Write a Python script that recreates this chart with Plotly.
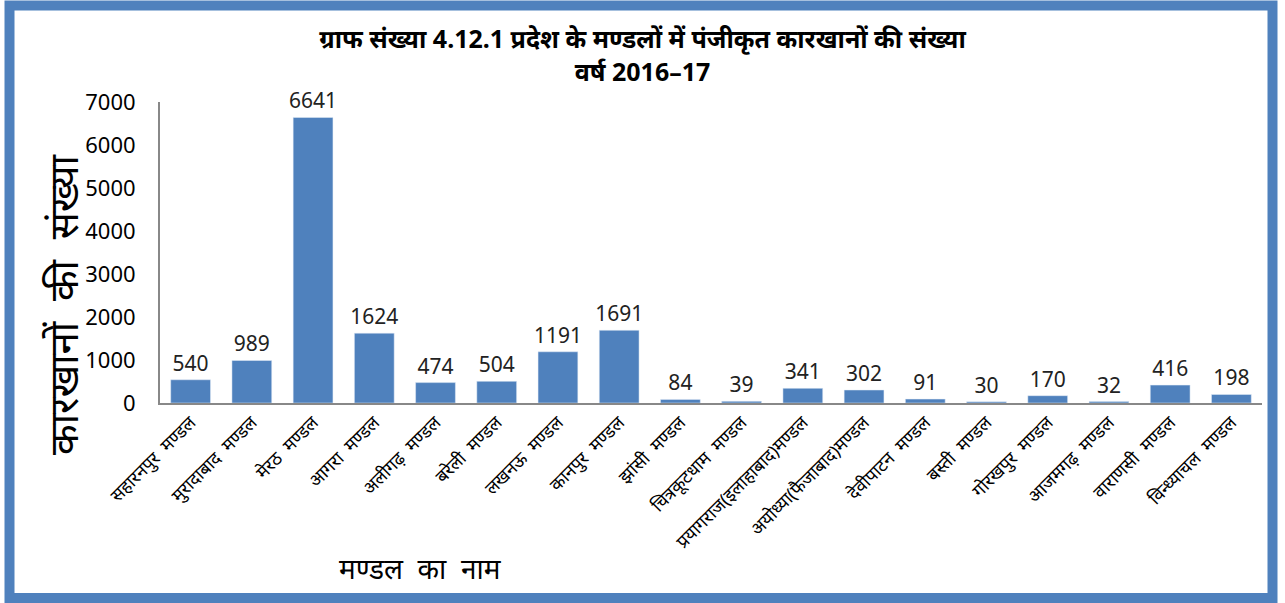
import plotly.graph_objects as go

mandals = ['सहारनपुर  मण्डल', 'मुरादाबाद  मण्डल', 'मेरठ  मण्डल', 'आगरा  मण्डल',
           'अलीगढ़  मण्डल', 'बरेली  मण्डल', 'लखनऊ  मण्डल', 'कानपुर  मण्डल',
           'झांसी  मण्डल', 'चित्रकूटधाम  मण्डल', 'प्रयागराज(इलाहाबाद)मण्डल',
           'अयोध्या(फैजाबाद)मण्डल', 'देवीपाटन  मण्डल', 'बस्ती  मण्डल',
           'गोरखपुर  मण्डल', 'आजमगढ़  मण्डल', 'वाराणसी  मण्डल', 'विन्ध्याचल  मण्डल']
factories = [540, 989, 6641, 1624, 474, 504, 1191, 1691, 84, 39, 341, 302, 91, 30, 170, 32, 416, 198]
y_ticks = [0, 1000, 2000, 3000, 4000, 5000, 6000, 7000]

blue = '#4F81BD'
font = 'Noto Sans, Liberation Sans, sans-serif'

# plot area in pixels
L, R, T, B = 160, 1262, 102, 403
W, H = R - L, B - T


def px(x):
    return (x - L) / W


def py(y):
    return (B - y) / H


fig = go.Figure(go.Bar(
    x=mandals, y=factories,
    marker_color=blue,
    width=0.65,
    text=factories, textposition='outside',
    textfont=dict(size=21, color='#222'),
    constraintext='none',
    cliponaxis=False,
))

fig.update_layout(
    width=1285, height=603,
    margin=dict(l=L, r=1285 - R, t=T, b=603 - B, autoexpand=False),
    paper_bgcolor='white', plot_bgcolor='white',
    font=dict(family=font, color='black'),
    showlegend=False,
    title=dict(text='<b>ग्राफ संख्या 4.12.1 प्रदेश के मण्डलों में पंजीकृत कारखानों की संख्या<br>वर्ष 2016–17</b>',
               x=0.5, xanchor='center', y=1 - 48 / 603, yanchor='top',
               font=dict(size=25)),
    xaxis=dict(tickangle=-45, tickfont=dict(size=18), showline=True,
               linecolor='#888', linewidth=2, ticks='', showgrid=False,
               automargin=False),
    yaxis=dict(range=[0, 7000], tickvals=y_ticks, tickfont=dict(size=22),
               showline=True, linecolor='#888', linewidth=2, showgrid=False,
               ticks='', zeroline=False, automargin=False,
               ticklabelstandoff=18),
    annotations=[
        dict(text='कारखानों  की  संख्या', xref='paper', yref='paper',
             x=px(62), y=py(305), xanchor='center', yanchor='middle',
             textangle=-90, showarrow=False, font=dict(size=40)),
        dict(text='मण्डल  का  नाम', xref='paper', yref='paper',
             x=px(420), y=py(568), xanchor='center', yanchor='middle',
             showarrow=False, font=dict(size=28)),
    ],
    shapes=[dict(type='rect', xref='paper', yref='paper',
                 x0=px(9.5), x1=px(1272.5), y0=py(5.5), y1=py(598),
                 line=dict(color=blue, width=10))],
)

fig.write_html('out.html', config={'displayModeBar': False},
               post_script="document.body.style.margin='0';")
